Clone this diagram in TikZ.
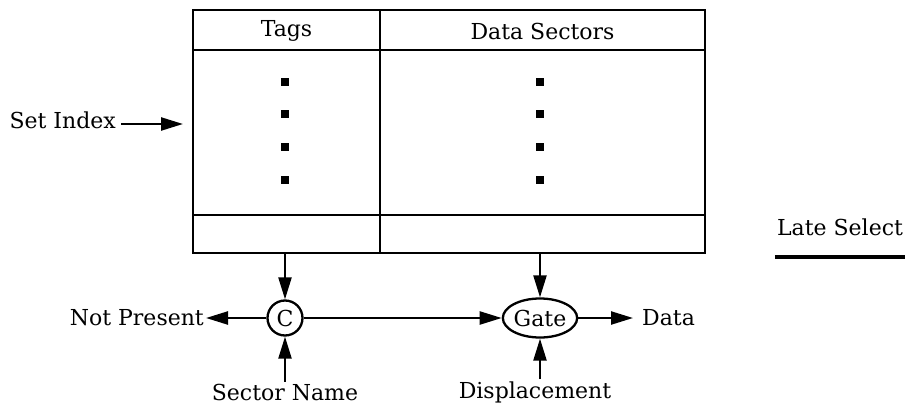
\documentclass[tikz,border=0pt]{standalone}
\usepackage{fontspec}
\setmainfont{DejaVu Serif}
\usetikzlibrary{arrows.meta,shapes.geometric}
\begin{document}
\begin{tikzpicture}[x=1pt,y=-1pt,line width=2.3pt,
  font=\fontsize{22}{27}\selectfont,
  >={Triangle[length=22pt,width=13pt]},
  lbl/.style={inner sep=1pt},
  dotm/.style={fill=black,inner sep=0pt,minimum size=7.5pt,rectangle}]
\useasboundingbox (0,0) rectangle (913,404);
% table
\draw (193,10) rectangle (705,253);
\draw (193,50) -- (705,50);
\draw (193,215) -- (705,215);
\draw (380,10) -- (380,253);
\node (tagsh) at (286.5,31) {Tags};
\node (datah) at (542.5,31) {Data Sectors};
\coordinate (tagout) at (285,253);
\coordinate (dataout) at (540,253);
\coordinate (setin) at (183,124);
\foreach \y [count=\i] in {82,114,147,180} {
  \node[dotm] (td\i) at (285,\y) {};
  \node[dotm] (dd\i) at (540,\y) {};
}
% set index
\node[lbl,anchor=east] (si) at (118,120) {Set Index};
\draw[->] (si.east |- setin) ++(3,0) -- (setin);
% comparator and gate
\node[circle,draw,inner sep=0pt,minimum size=35pt] (C) at (285,318) {C};
\node[ellipse,draw,inner sep=0pt,minimum width=66pt,minimum height=39pt] (G) at (540,318) {Gate};
\draw[->] (tagout) -- (C);
\draw[->] (dataout) -- (G);
\draw[->] (C) -- (G);
\node[lbl,anchor=east] (np) at (206,318) {Not Present};
\draw[->] (C) -- (np);
\node[lbl,anchor=west] (data) at (640,318) {Data};
\draw[->] (G) -- ([xshift=-7pt]data.west);
\node[lbl] (sn) at (285,392) {Sector Name};
\draw[->] (sn.north) -- (C);
\node[lbl] (disp) at (535,392) {Displacement};
\draw[->] (G.south |- disp.north) -- (G);
% late select
\node[lbl] (ls) at (840,227) {Late Select};
\draw[line width=4pt] (ls.west |- 0,257) -- (ls.east |- 0,257);
\end{tikzpicture}
\end{document}
